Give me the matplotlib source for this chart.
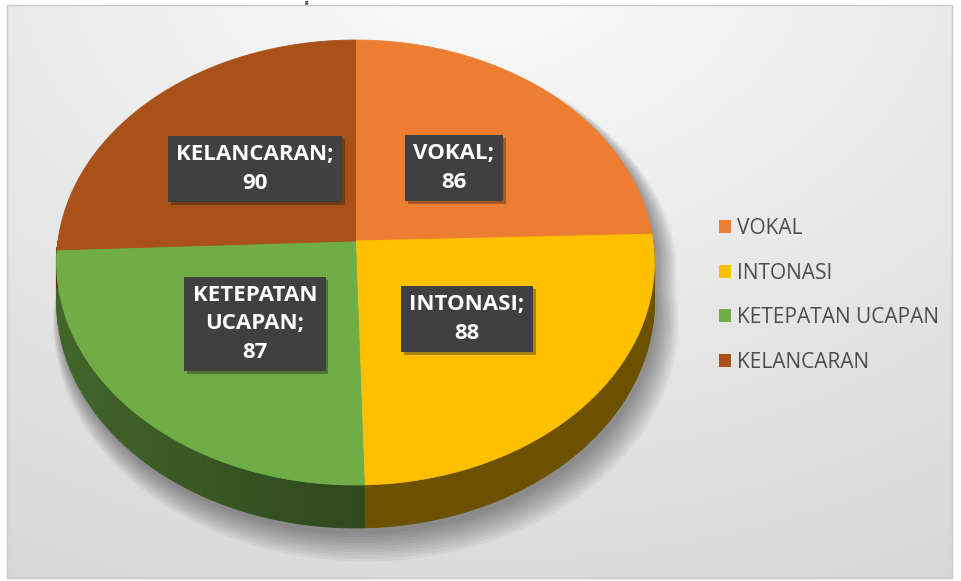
import numpy as np
import matplotlib
matplotlib.use('Agg')
import matplotlib.pyplot as plt
from matplotlib.patches import Polygon, Patch
import matplotlib.patheffects as pe

# data
categories = ['VOKAL', 'INTONASI', 'KETEPATAN UCAPAN', 'KELANCARAN']
values = [86, 88, 87, 90]
label_texts = ['VOKAL;\n86', 'INTONASI;\n88', 'KETEPATAN\nUCAPAN;\n87', 'KELANCARAN;\n90']
colors = ['#ED7D31', '#FFC000', '#70AD47', '#AA5119']

W, H = 962, 581
fig = plt.figure(figsize=(W / 100, H / 100), dpi=100)
ax = fig.add_axes([0, 0, 1, 1])
ax.set_xlim(0, W)
ax.set_ylim(H, 0)
ax.axis('off')

# grey gradient chart area
bx0, bx1, by0, by1 = 7, 952, 5, 578
yy, xx = np.mgrid[by0:by1, bx0:bx1]
r = np.sqrt(((xx - 480) / 900.0) ** 2 + ((yy + 50) / 650.0) ** 2)
v = np.clip(0.985 - 0.13 * r, 0, 1)
ax.imshow(np.dstack([v, v, v]), extent=(bx0, bx1, by1, by0), zorder=0, aspect='auto')
ax.plot([bx0, bx1, bx1, bx0, bx0], [by0, by0, by1, by1, by0], color='#c9c9c9', lw=1, zorder=1)

# pie geometry (pixels), simple perspective tilt
cx, cy = 355.5, 241
a, b, k, D = 297.5, 220.4, 0.0967, 38.8


def proj(theta_deg, depth=0.0, grow=0.0):
    t = np.radians(theta_deg)
    x, y = np.cos(t), np.sin(t)
    s = 1.0 / (1.0 + k * y)
    X = cx + (a + grow) * x * s
    Y = cy - (b + grow) * y * s + D * s * depth
    return np.column_stack([X, Y])


# wedge angles, start at top and go clockwise
fracs = np.array(values) / float(sum(values))
starts = 90 - 360 * np.concatenate([[0], np.cumsum(fracs)[:-1]])
ends = starts - 360 * fracs

# soft shadow
for i in range(10):
    top = proj(np.linspace(0, 180, 120), 0, grow=i * 1.5)
    bot = proj(np.linspace(180, 360, 120), 1, grow=i * 1.5)
    pts = np.vstack([top, bot]) + [3 + i * 0.8, 6 + i * 1.4]
    ax.add_patch(Polygon(pts, closed=True, fc='black', ec='none', alpha=0.045, zorder=2))

# side of the pie, only the front half shows
for c, t0, t1 in zip(colors, starts, ends):
    lo, hi = max(t1, -180), min(t0, 0)
    if hi <= lo:
        continue
    base = np.array(matplotlib.colors.to_rgb(c))
    edges = np.linspace(lo, hi, 40)
    for e0, e1 in zip(edges[:-1], edges[1:]):
        th = np.linspace(e0, e1, 4)
        pts = np.vstack([proj(th, 0), proj(th[::-1], 1)])
        f = 0.42 + 0.18 * max(0.0, -np.cos(np.radians((e0 + e1) / 2)))
        sc = np.clip(base * f, 0, 1)
        ax.add_patch(Polygon(pts, closed=True, fc=sc, ec=sc, lw=0.6, zorder=3))

# top of the pie
for c, t0, t1 in zip(colors, starts, ends):
    th = np.linspace(t0, t1, 200)
    pts = np.vstack([[cx, cy], proj(th, 0)])
    ax.add_patch(Polygon(pts, closed=True, fc=c, ec=c, lw=0.6, zorder=4))

# data labels in dark boxes
label_pos = [(454, 168), (467, 319), (255, 324), (255, 169)]
for txt, (lx, ly) in zip(label_texts, label_pos):
    t = ax.text(lx, ly, txt, ha='center', va='center', color='white',
                fontsize=16, fontweight='bold', family='Open Sans', linespacing=1.45,
                bbox=dict(boxstyle='square,pad=0.38', fc='#404040', ec='none'), zorder=6)
    t.get_bbox_patch().set_path_effects([pe.SimplePatchShadow(offset=(2, -2), alpha=0.35), pe.Normal()])

# legend
handles = [Patch(fc=c, ec='none') for c in colors]
ax.legend(handles, categories, loc='upper left', bbox_to_anchor=(719 / W, 1 - 218 / H),
          frameon=False, prop={'family': 'Open Sans', 'size': 15}, labelcolor='#4d4d4d',
          handlelength=0.6, handleheight=0.6, handletextpad=0.25, labelspacing=1.13,
          borderpad=0, borderaxespad=0)

# cut-off caption above the chart (only a fragment shows)
ax.text(307, 0, 'g', ha='center', va='top', family='Liberation Serif',
        fontweight='bold', fontsize=5, color='black', zorder=7)

fig.savefig('out.png', dpi=100)
